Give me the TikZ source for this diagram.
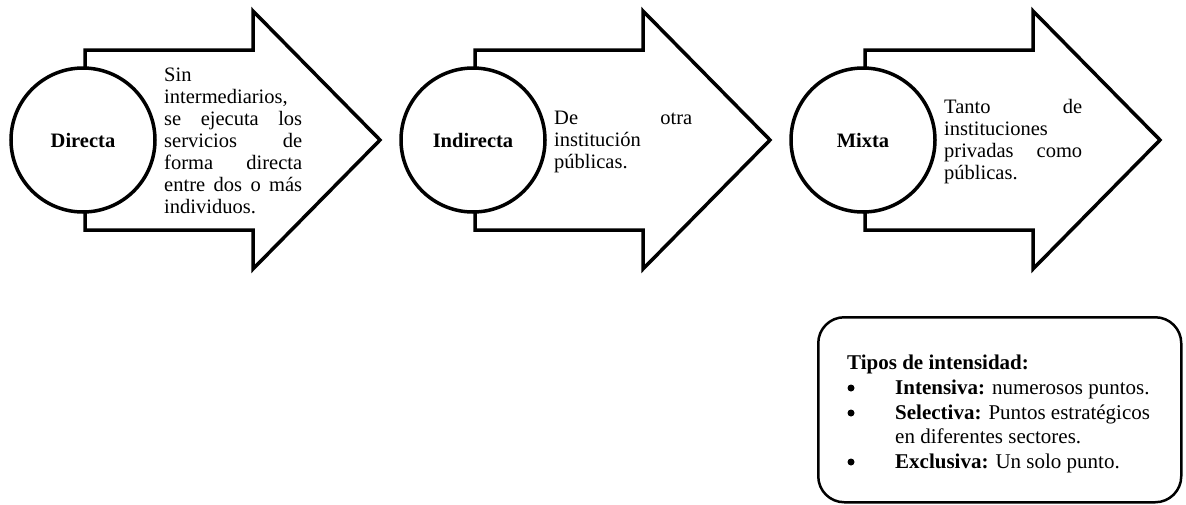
\documentclass[tikz,border=0pt]{standalone}
\usepackage{fontspec}
\setmainfont{Liberation Serif}
% column width of the justified descriptions inside the arrows
\newlength\colw
\setlength\colw{138pt}
% one fully justified line
\newcommand\jl[1]{\makebox[\colw][s]{#1}}
\tikzset{
  arrowline/.style={draw=black, line width=3.5pt, fill=white, line join=miter},
  hub/.style={circle, draw=black, line width=3.5pt, fill=white, minimum size=144pt,
    inner sep=0pt, font=\fontsize{20.5}{22}\selectfont\bfseries},
  desc/.style={anchor=west, inner sep=0pt, text width=\colw, align=left,
    font=\fontsize{20.5}{22}\selectfont},
  panel/.style={draw=black, line width=2.5pt, rounded corners=26pt, inner sep=0pt,
    minimum width=363pt, minimum height=185pt, anchor=north west},
  ptext/.style={anchor=base west, inner sep=0pt, font=\fontsize{21}{24}\selectfont},
  dot/.style={circle, fill=black, inner sep=0pt, minimum size=7pt}
}
% block arrow outline, drawn once per stage
\newcommand\flowarrow{%
  \path[arrowline] (85,50) -- (253,50) -- (253,11) -- (380,140) -- (253,269)
    -- (253,230) -- (85,230) -- cycle;}
\begin{document}
\begin{tikzpicture}[x=1pt,y=-1pt]
\useasboundingbox (0,0) rectangle (1186,504);

% stage 1
\begin{scope}
  \flowarrow
\end{scope}
\node[hub] (c1) at (83,140) {Directa};
\node[desc] (t1) at (164,141) {Sin\\
  intermediarios,\\
  \jl{se\hfill ejecuta\hfill los}\\
  \jl{servicios\hfill de}\\
  \jl{forma\hfill directa}\\
  \jl{entre\hfill dos\hfill o\hfill más}\\
  individuos.};

% stage 2
\begin{scope}[xshift=390pt]
  \flowarrow
\end{scope}
\node[hub] (c2) at (473,140) {Indirecta};
\node[desc] (t2) at (554,142) {\jl{De\hfill otra}\\
  institución\\
  públicas.};

% stage 3
\begin{scope}[xshift=780pt]
  \flowarrow
\end{scope}
\node[hub] (c3) at (863,140) {Mixta};
\node[desc] (t3) at (944,142) {\jl{Tanto\hfill de}\\
  instituciones\\
  \jl{privadas\hfill como}\\
  públicas.};

% intensity panel
\node[panel] (legend) at (817,316) {};
\node[ptext] (lh) at (847,369) {\textbf{Tipos de intensidad:}};
\node[dot] (b1) at (851,388) {};
\node[ptext] (l1) at (895,394) {\textbf{Intensiva:} numerosos puntos.};
\node[dot] (b2) at (851,413) {};
\node[ptext] (l2) at (895,419) {\textbf{Selectiva:} Puntos estratégicos};
\node[ptext] (l2b) at (895,443) {en diferentes sectores.};
\node[dot] (b3) at (851,462) {};
\node[ptext] (l3) at (895,468) {\textbf{Exclusiva:} Un solo punto.};
\end{tikzpicture}
\end{document}
